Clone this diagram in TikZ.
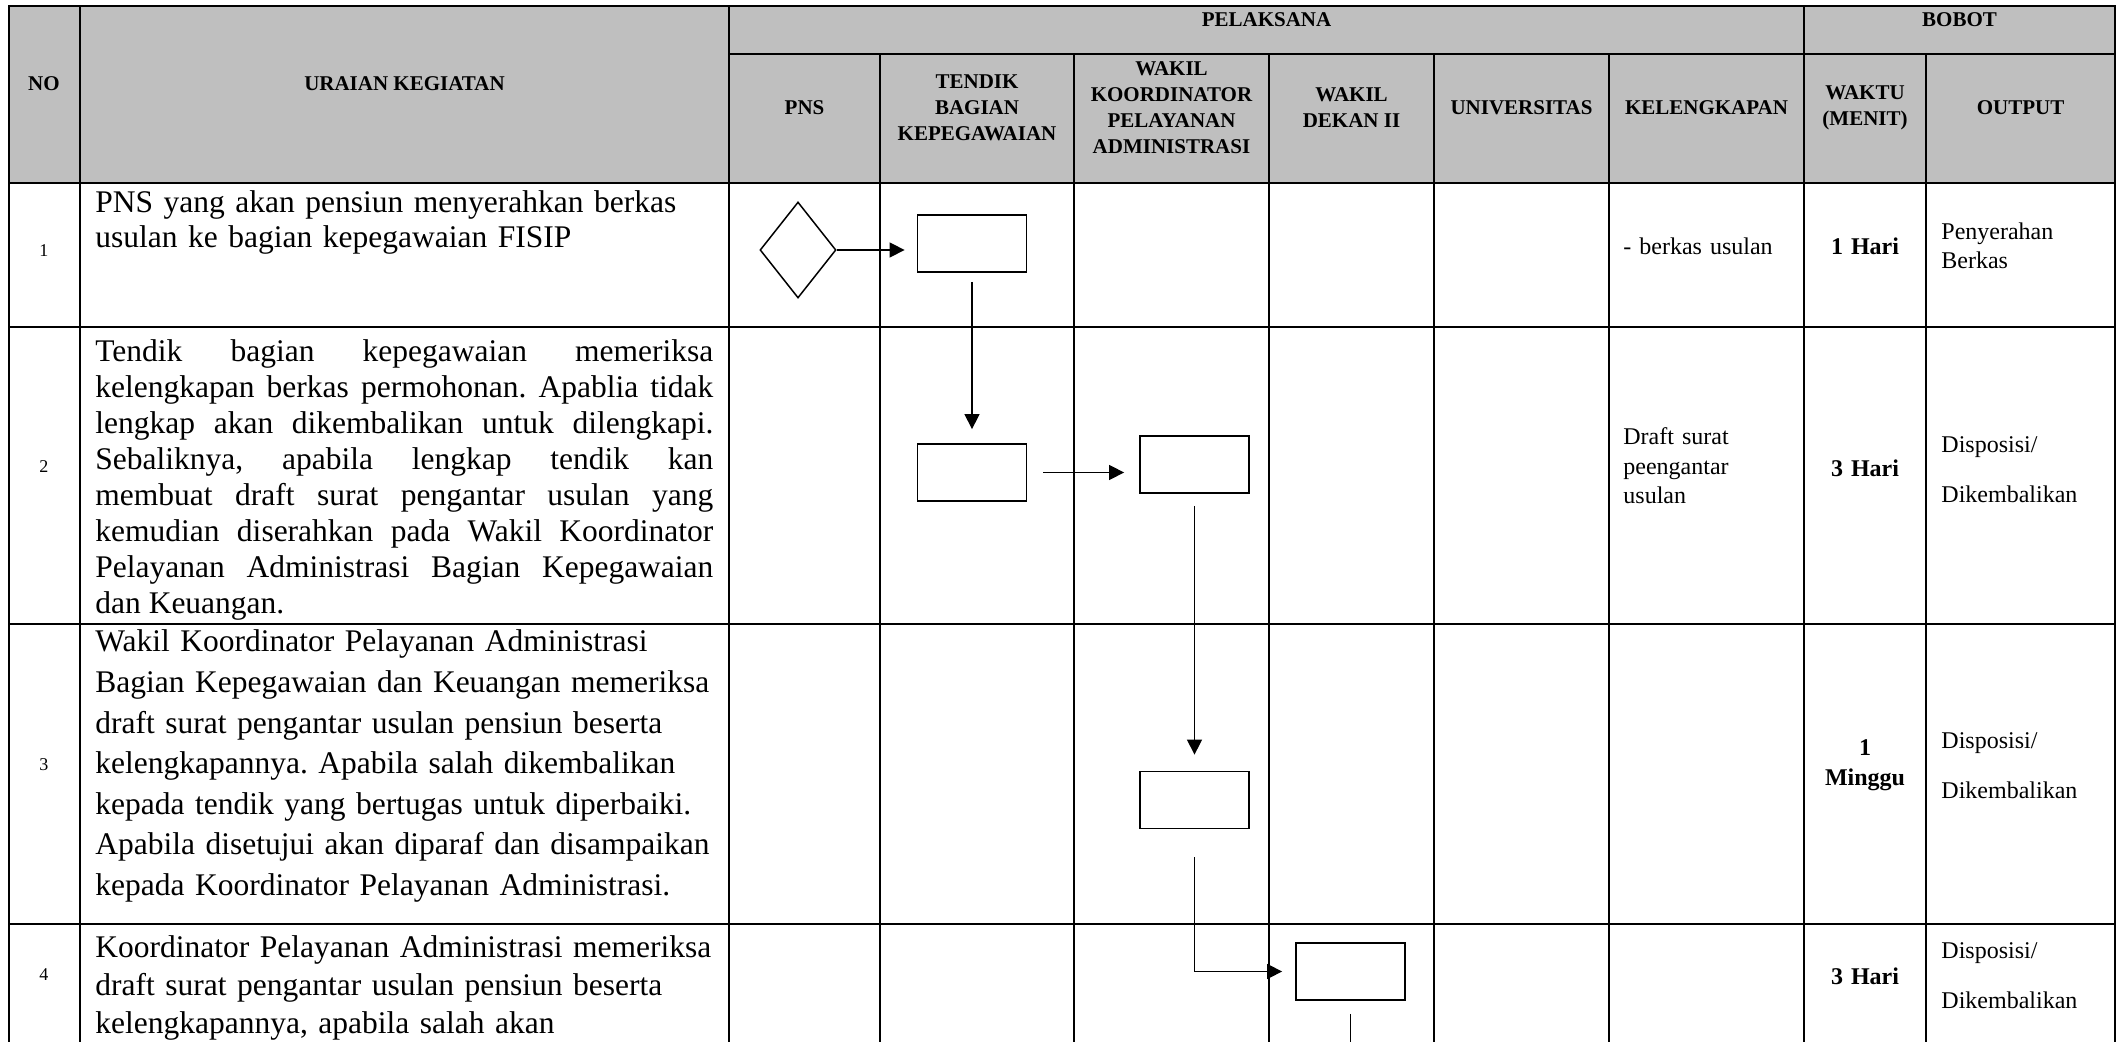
\documentclass[tikz,border=0pt]{standalone}
\usepackage{fontspec}
\setmainfont{Liberation Serif}
\usetikzlibrary{shapes.geometric, arrows.meta}
\frenchspacing

\definecolor{headgray}{HTML}{BFBFBF}

\begin{document}
\begin{tikzpicture}[x=0.5pt, y=-0.5pt,
        grid/.style={line width=1.2pt},
        headtxt/.style={font=\fontsize{10.5}{13}\selectfont\bfseries, align=center, inner sep=0},
        bodytxt/.style={font=\fontsize{15.75}{20}\selectfont, anchor=base west, inner sep=0, text width=330pt, align=left},
        celltxt/.style={font=\fontsize{12}{14.5}\selectfont, anchor=base west, inner sep=0, text width=85pt, align=left},
        numtxt/.style={font=\fontsize{9}{10}\selectfont, anchor=base, inner sep=0},
        timetxt/.style={font=\fontsize{12}{15}\selectfont\bfseries, anchor=base, inner sep=0, text width=60pt, align=center},
        stepbox/.style={draw, line width=0.9pt, minimum width=54.5pt, minimum height=28.5pt, inner sep=0},
        decision/.style={draw, diamond, line width=0.75pt, minimum width=38pt, minimum height=48pt, inner sep=0},
        arr/.style={-{Triangle[length=7.5pt, width=7.5pt]}, line width=0.7pt},
        flow/.style={line width=0.7pt}]
        \useasboundingbox (0,0) rectangle (2126,1042);

        \fill[headgray] (9,6) rectangle (2115,183);
        \draw[grid] (9,1042) -- (9,6) -- (2115,6) -- (2115,1042);
        \draw[grid] (729,54) -- (2115,54);
        \foreach \y in {183,327,624,924}
            \draw[grid] (9,\y) -- (2115,\y);
        \foreach \x in {80,729,1804}
            \draw[grid] (\x,6) -- (\x,1042);
        \foreach \x in {880,1074,1269,1434,1609,1926}
            \draw[grid] (\x,54) -- (\x,1042);

        \node[headtxt] at (44,84) (hno) {NO};
        \node[headtxt] at (404.5,84) (hur) {URAIAN KEGIATAN};
        \node[headtxt] at (1266.5,20) (hpel) {PELAKSANA};
        \node[headtxt] at (1959.5,20) (hbob) {BOBOT};
        \node[headtxt] at (804.5,108) (hpns) {PNS};
        \node[headtxt] at (977,108) (htb) {TENDIK\\BAGIAN\\KEPEGAWAIAN};
        \node[headtxt] at (1171.5,108) (hwk) {WAKIL\\KOORDINATOR\\PELAYANAN\\ADMINISTRASI};
        \node[headtxt] at (1351.5,108) (hwd) {WAKIL\\DEKAN II};
        \node[headtxt] at (1521.5,108) (huni) {UNIVERSITAS};
        \node[headtxt] at (1706.5,108) (hkel) {KELENGKAPAN};
        \node[headtxt] at (1865,108) (hwt) {WAKTU\\(MENIT)};
        \node[headtxt] at (2020.5,108) (hout) {OUTPUT};

        \node[numtxt] at (44,257) (no1) {1};
        \node[numtxt] at (44,473) (no2) {2};
        \node[numtxt] at (44,770) (no3) {3};
        \node[numtxt] at (44,980) (no4) {4};

        \node[bodytxt, font=\fontsize{15.75}{17.5}\selectfont] at (95,213) (ur1) {PNS yang akan pensiun menyerahkan berkas\\usulan ke bagian kepegawaian FISIP};
        \node[bodytxt, text width=309pt, align=justify, font=\fontsize{15.75}{18}\selectfont] at (95,362) (ur2) {Tendik bagian kepegawaian memeriksa\linebreak
            kelengkapan berkas permohonan. Apablia tidak\linebreak
            lengkap akan dikembalikan untuk dilengkapi.\linebreak
            Sebaliknya, apabila lengkap tendik kan\linebreak
            membuat draft surat pengantar usulan yang\linebreak
            kemudian diserahkan pada Wakil Koordinator\linebreak
            Pelayanan Administrasi Bagian Kepegawaian\linebreak
            dan Keuangan.};
        \node[bodytxt, font=\fontsize{15.75}{20.3}\selectfont] at (95,652) (ur3) {Wakil Koordinator Pelayanan Administrasi\\
            Bagian Kepegawaian dan Keuangan memeriksa\\
            draft surat pengantar usulan pensiun beserta\\
            kelengkapannya. Apabila salah dikembalikan\\
            kepada tendik yang bertugas untuk diperbaiki.\\
            Apabila disetujui akan diparaf dan disampaikan\\
            kepada Koordinator Pelayanan Administrasi.};
        \node[bodytxt, font=\fontsize{15.75}{19}\selectfont] at (95,957) (ur4) {Koordinator Pelayanan Administrasi memeriksa\\
            draft surat pengantar usulan pensiun beserta\\
            kelengkapannya, apabila salah akan};

        \node[decision] at (798,250) (pns1) {};
        \node[stepbox] at (972,243.5) (tb1) {};
        \node[stepbox] at (972,472.5) (tb2) {};
        \node[stepbox] at (1194.5,464.5) (wk1) {};
        \node[stepbox] at (1194.5,800) (wk2) {};
        \node[stepbox] at (1350.5,971.5) (wd1) {};
        \coordinate (cut) at (1350.5,1042);

        \draw[arr, shorten >=6pt] (pns1.east) -- (pns1.east -| tb1.west);
        \draw[arr, shorten <=4.5pt, shorten >=7pt] (tb1.south) -- (tb2.north);
        \draw[arr, shorten <=8pt, shorten >=7.5pt] (tb2.east) -- (tb2.east -| wk1.west);
        \draw[arr, shorten <=6pt, shorten >=8pt] (wk1.south) -- (wk2.north);
        \draw[arr, shorten <=14pt, shorten >=6.5pt] (wk2.south) |- (wd1.west);
        \draw[flow, shorten <=6.5pt] (wd1.south) -- (cut);

        \node[celltxt] at (1623,255) (kel1) {- berkas usulan};
        \node[celltxt, font=\fontsize{12}{14.7}\selectfont] at (1623,445) (kel2) {Draft surat\\peengantar\\usulan};

        \node[timetxt] at (1865,255) (wt1) {1 Hari};
        \node[timetxt] at (1865,477) (wt2) {3 Hari};
        \node[timetxt] at (1865,755) (wt3) {1\\Minggu};
        \node[timetxt] at (1865,984) (wt4) {3 Hari};

        \node[celltxt] at (1941,240) (out1) {Penyerahan\\Berkas};
        \node[celltxt, font=\fontsize{12}{25}\selectfont] at (1941,453) (out2) {Disposisi/\\Dikembalikan};
        \node[celltxt, font=\fontsize{12}{25}\selectfont] at (1941,748) (out3) {Disposisi/\\Dikembalikan};
        \node[celltxt, font=\fontsize{12}{25}\selectfont] at (1941,958) (out4) {Disposisi/\\Dikembalikan};
    \end{tikzpicture}
\end{document}
